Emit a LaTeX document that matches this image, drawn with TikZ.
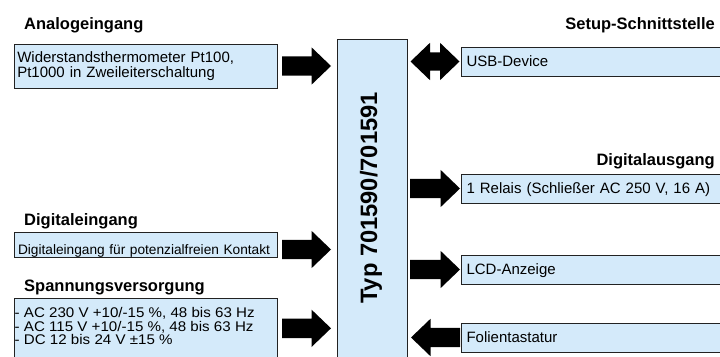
\documentclass[tikz,border=0pt]{standalone}
\usepackage{fontspec}
\setmainfont{Liberation Sans}
\newfontfamily\pwrfont[FakeStretch=1.08]{Liberation Sans}
\usetikzlibrary{calc}
\definecolor{boxfill}{RGB}{212,234,250}
\definecolor{boxline}{RGB}{34,34,34}
% block arrows: #1 tail, #2 tip
\newcommand\blkR[2]{\fill[arrowfill] let \p1=(#1), \p2=(#2) in
  (\x1,\y1+9.7pt) -- (\x2-19.5pt,\y1+9.7pt) -- (\x2-19.5pt,\y1+18.7pt) -- (\x2,\y1)
  -- (\x2-19.5pt,\y1-18.7pt) -- (\x2-19.5pt,\y1-9.7pt) -- (\x1,\y1-9.7pt) -- cycle;}
\newcommand\blkL[2]{\fill[arrowfill] let \p1=(#1), \p2=(#2) in
  (\x1,\y1+9.7pt) -- (\x2+19.5pt,\y1+9.7pt) -- (\x2+19.5pt,\y1+18.7pt) -- (\x2,\y1)
  -- (\x2+19.5pt,\y1-18.7pt) -- (\x2+19.5pt,\y1-9.7pt) -- (\x1,\y1-9.7pt) -- cycle;}
% double block arrow: #1 left tip, #2 right tip
\newcommand\blkD[2]{\fill[arrowfill] let \p1=(#1), \p2=(#2) in
  (\x1,\y1) -- (\x1+19.5pt,\y1+18.7pt) -- (\x1+19.5pt,\y1+9.2pt) -- (\x2-19.5pt,\y1+9.2pt)
  -- (\x2-19.5pt,\y1+18.7pt) -- (\x2,\y1) -- (\x2-19.5pt,\y1-18.7pt) -- (\x2-19.5pt,\y1-9.2pt)
  -- (\x1+19.5pt,\y1-9.2pt) -- (\x1+19.5pt,\y1-18.7pt) -- cycle;}
\begin{document}
\begin{tikzpicture}[x=1pt,y=1pt,
  box/.style={draw=boxline, line width=1pt, fill=boxfill, inner sep=0pt, outer sep=0pt, anchor=north west},
  title/.style={font=\fontsize{16.5}{19}\selectfont\bfseries, inner sep=0pt},
  body/.style={font=\fontsize{15}{15}\selectfont},
  rbox/.style={box, body, minimum width=270pt, minimum height=29pt, text width=259pt,
    align=left, inner xsep=5.5pt, text height=10.7pt, text depth=0pt},
  arrowfill/.style={fill=black},
]
\useasboundingbox (0,0) rectangle (720,-356);
\clip (0,0) rectangle (720,-356);

% central unit
\node[box, minimum width=70pt, minimum height=325pt] (typ) at (337,-39) {};
\node[rotate=90, font=\fontsize{23.7}{27}\selectfont\bfseries, inner sep=0pt] (typlbl)
  at ($(typ.north)+(-1pt,-159pt)$) {Typ 701590/701591};

% left side
\node[title, anchor=base west] (tana) at (24,-29.3) {Analogeingang};
\node[box, body, minimum width=263pt, minimum height=44pt, text width=256.4pt,
  align=left, inner xsep=3.3pt] (ana) at (14,-44)
  {Widerstandsthermometer Pt100,\\Pt1000 in Zweileiterschaltung};

\node[title, anchor=base west] (tdig) at (24,-225) {Digitaleingang};
\node[box, font=\fontsize{13.7}{15}\selectfont, minimum width=263pt, minimum height=25pt,
  text width=255pt, align=left, inner xsep=4pt, text height=19pt, text depth=0pt]
  (dig) at (14,-232) {Digitaleingang für potenzialfreien Kontakt};

\node[title, anchor=base west] (tpwr) at (24,-291.7) {Spannungsversorgung};
\node[box, minimum width=263pt, minimum height=62pt] (pwr) at (14,-298) {};
\node[font=\pwrfont\fontsize{14}{13.3}\selectfont, anchor=north west, inner sep=0pt, align=left]
  (pwrtxt) at (14.5,-307.6)
  {- AC 230 V +10/-15 \%, 48 bis 63 Hz\\- AC 115 V +10/-15 \%, 48 bis 63 Hz\\- DC 12 bis 24 V ±15 \%};

% right side
\node[title, anchor=base east] (tset) at (715,-29.3) {Setup-Schnittstelle};
\node[rbox] (usb) at (461,-47) {USB-Device};
\node[title, anchor=base east] (tdo) at (715,-165) {Digitalausgang};
\node[rbox] (rel) at (461,-174) {1 Relais (Schließer AC 250 V, 16 A)};
\node[rbox] (lcd) at (461,-255) {LCD-Anzeige};
\node[rbox] (fol) at (461,-323) {Folientastatur};

% arrow end points
\coordinate (anaT) at ($(ana.east)+(5pt,0)$);
\coordinate (anaH) at ($(typ.west |- anaT)+(-6pt,0)$);
\coordinate (digT) at ($(dig.east)+(5pt,-5pt)$);
\coordinate (digH) at ($(typ.west |- digT)+(-6pt,0)$);
\coordinate (pwrT) at ($(pwr.east)+(5pt,0.7pt)$);
\coordinate (pwrH) at ($(typ.west |- pwrT)+(-6pt,0)$);
\coordinate (usbL) at ($(typ.east |- usb.west)+(3.5pt,0)$);
\coordinate (usbR) at ($(usb.west)+(-1.5pt,0)$);
\coordinate (relT) at ($(typ.east |- rel.west)+(3pt,0)$);
\coordinate (relH) at ($(rel.west)+(-1pt,0)$);
\coordinate (lcdT) at ($(typ.east |- lcd.west)+(3pt,0)$);
\coordinate (lcdH) at ($(lcd.west)+(-1pt,0)$);
\coordinate (folT) at ($(fol.west)+(-1pt,0)$);
\coordinate (folH) at ($(typ.east |- fol.west)+(4pt,0)$);

\blkR{anaT}{anaH}
\blkR{digT}{digH}
\blkR{pwrT}{pwrH}
\blkD{usbL}{usbR}
\blkR{relT}{relH}
\blkR{lcdT}{lcdH}
\blkL{folT}{folH}
\end{tikzpicture}
\end{document}
